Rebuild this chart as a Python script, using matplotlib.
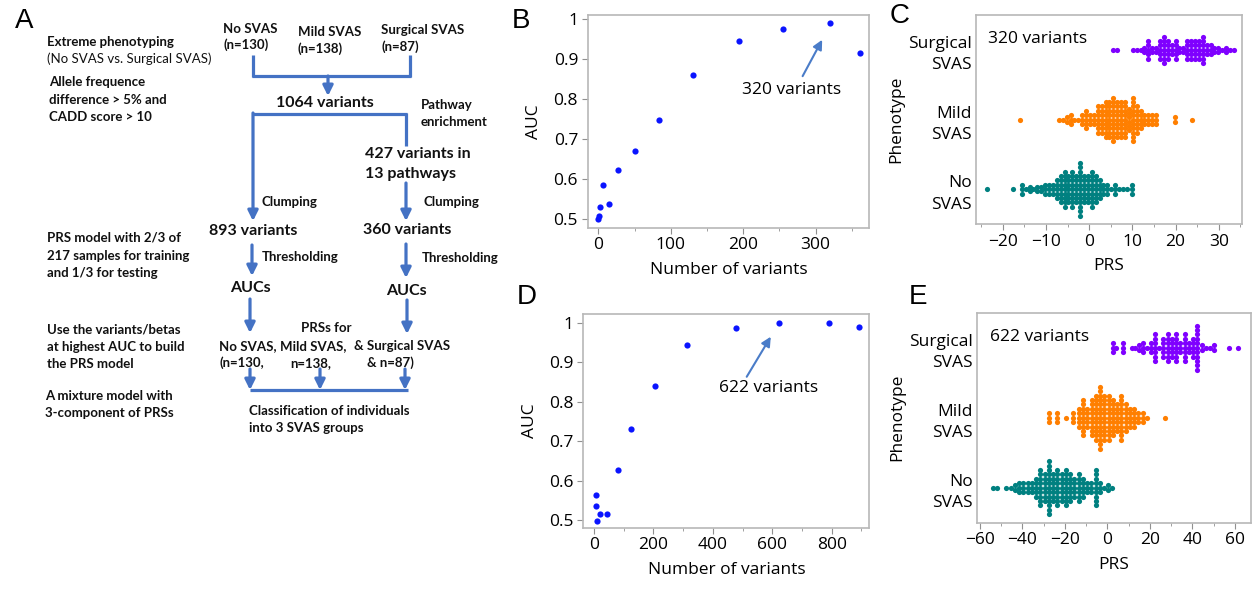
import numpy as np
import matplotlib.pyplot as plt
from matplotlib.ticker import MultipleLocator, FuncFormatter

# panel B: AUC vs number of variants (pathway variants)
b_variants = [0, 0.5, 2, 6, 15, 27, 50, 84, 131, 194, 255, 320, 361]
b_auc = [0.500, 0.506, 0.529, 0.585, 0.537, 0.623, 0.671, 0.747, 0.859, 0.944, 0.975, 0.991, 0.914]

# panel D: AUC vs number of variants (all clumped variants)
d_variants = [5, 8, 11, 21, 45, 82, 123, 205, 313, 477, 622, 790, 893]
d_auc = [0.563, 0.536, 0.498, 0.515, 0.515, 0.628, 0.730, 0.839, 0.944, 0.987, 1.0, 1.0, 0.989]

phenotypes = ["No\nSVAS", "Mild\nSVAS", "Surgical\nSVAS"]
colors = ["#008080", "#FF7F00", "#7F00FF"]

# panel C: binned PRS values (320 variants), count of samples per bin
c_no_prs = [-23.6, -17.7, -15.6, -14.7, -13.8, -12.9, -12.0, -11.1, -10.2, -9.3,
            -8.4, -7.5, -6.6, -5.7, -4.8, -3.9, -3.0, -2.1, -1.2, -0.3,
            0.6, 1.5, 2.4, 3.3, 4.2, 5.1, 6.0, 6.9, 7.8, 8.7, 9.9]
c_no_n = [1, 1, 3, 1, 2, 1, 2, 2, 3, 3,
          3, 5, 7, 9, 7, 9, 7, 13, 7, 7,
          9, 7, 5, 3, 3, 1, 3, 1, 1, 1, 3]
c_mild_prs = [-16.0, -7.0, -6.1, -5.2, -4.3, -3.4, -2.5, -1.6, -0.7, 0.2, 1.1, 2.0, 2.9, 3.8, 4.7,
              5.6, 6.5, 7.4, 8.3, 9.2, 10.1, 11.0, 11.9, 12.8, 13.7, 14.6, 15.5, 19.8, 23.8]
c_mild_n = [1, 1, 1, 2, 3, 1, 1, 3, 5, 3, 3, 7, 7, 9, 9,
            11, 9, 9, 9, 6, 11, 7, 5, 3, 3, 3, 3, 2, 1]
c_surg_prs = [5.6, 6.5, 10.1, 11.0, 11.9, 12.8, 13.7, 14.6, 15.5, 16.4, 17.3, 18.2, 19.1, 20.0, 20.9,
              21.8, 22.7, 23.6, 24.5, 25.4, 26.3, 27.2, 28.1, 29.0, 29.9, 30.8, 31.7, 32.6, 33.5]
c_surg_n = [1, 1, 1, 1, 1, 2, 5, 2, 2, 5, 7, 5, 3, 5, 2,
            2, 5, 5, 5, 5, 7, 3, 3, 2, 2, 1, 2, 1, 1]

# panel E: binned PRS values (622 variants)
e_no_prs = [-54.0, -52.0, -47.5, -45.5, -43.5, -41.5, -39.5, -37.5, -35.5, -33.5,
            -31.5, -29.5, -27.5, -25.5, -23.5, -21.5, -19.5, -17.5, -15.5, -13.5,
            -11.5, -9.5, -7.5, -5.5, -3.5, -1.5, 0.5, 2.3]
e_no_n = [1, 1, 1, 1, 2, 3, 3, 3, 3, 5,
          9, 7, 13, 7, 9, 7, 9, 7, 5, 7,
          5, 3, 3, 9, 3, 1, 2, 1]
e_mild_prs = [-27.3, -23.5, -19.4, -16.0, -13.4, -11.4, -9.4, -7.4, -5.4, -3.4, -1.4,
              0.6, 2.6, 4.6, 6.6, 8.6, 10.6, 12.6, 14.6, 16.6, 18.6, 27.2]
e_mild_n = [3, 3, 1, 3, 5, 9, 5, 9, 11, 15, 11,
            11, 9, 7, 11, 7, 5, 5, 3, 3, 1, 1]
e_surg_prs = [2.5, 4.3, 7.2, 11.5, 13.2, 15.0, 16.8, 18.6, 20.4, 22.4, 24.4, 26.4, 28.4,
              30.4, 32.4, 34.4, 36.4, 38.4, 40.4, 42.4, 44.4, 46.4, 48.4, 50.4, 57.4, 61.6]
e_surg_n = [3, 1, 3, 1, 1, 2, 3, 1, 3, 7, 1, 5, 7,
            5, 7, 3, 7, 3, 5, 11, 2, 1, 1, 2, 1, 1]

plt.rcParams['font.family'] = ['Open Sans', 'DejaVu Sans']
plt.rcParams['font.size'] = 12

fig = plt.figure(figsize=(12.54, 5.9), dpi=100)

# ---- panel A: flowchart drawn in pixel coordinates
axA = fig.add_axes([0, 0, 1, 1], zorder=0)
axA.set_xlim(0, 1254)
axA.set_ylim(590, 0)
axA.axis("off")
blue = "#4472C4"
fa = ['Lato', 'DejaVu Sans']

def txt(x, y, s, size=9.5, weight="bold", ha="left"):
    axA.text(x, y, s, fontsize=size, fontweight=weight, ha=ha, va="center", family=fa, color="#111111")

def seg(x0, y0, x1, y1):
    axA.plot([x0, x1], [y0, y1], color=blue, lw=2.3, solid_capstyle="butt")

def arrow(x, y0, y1):
    axA.annotate("", xy=(x, y1), xytext=(x, y0),
                 arrowprops=dict(arrowstyle="-|>", color=blue, lw=2.3, mutation_scale=15,
                                 shrinkA=0, shrinkB=0))

txt(47, 42, "Extreme phenotyping")
txt(47, 59, "(No SVAS vs. Surgical SVAS)", weight="normal")
txt(49, 82, "Allele frequence")
txt(49, 100, "difference > 5% and")
txt(49, 117, "CADD score > 10")
txt(223, 29, "No SVAS")
txt(223, 45, "(n=130)")
txt(298, 32, "Mild SVAS")
txt(298, 49, "(n=138)")
txt(381, 30, "Surgical SVAS")
txt(381, 47, "(n=87)")
txt(325, 103, "1064 variants", size=11.5, ha="center")
txt(421, 105, "Pathway")
txt(421, 122, "enrichment")
txt(365, 154, "427 variants in", size=11.5)
txt(365, 174, "13 pathways", size=11.5)
txt(262, 202, "Clumping")
txt(423, 202, "Clumping")
txt(209, 231, "893 variants", size=11.5)
txt(363, 230, "360 variants", size=11.5)
txt(262, 257, "Thresholding")
txt(422, 258, "Thresholding")
txt(250, 288, "AUCs", size=11.5, ha="center")
txt(406, 291, "AUCs", size=11.5, ha="center")
txt(47, 238, "PRS model with 2/3 of")
txt(47, 256, "217 samples for training")
txt(47, 273, "and 1/3 for testing")
txt(47, 330, "Use the variants/betas")
txt(47, 347, "at highest AUC to build")
txt(47, 364, "the PRS model")
txt(301, 328, "PRSs for")
txt(219, 346, "No SVAS,")
txt(280, 346, "Mild SVAS,")
txt(354, 346, "& Surgical SVAS")
txt(219, 363, "(n=130,")
txt(290, 363, "n=138,")
txt(367, 363, "& n=87)")
txt(45, 396, "A mixture model with")
txt(45, 413, "3-component of PRSs")
txt(249, 411, "Classification of individuals")
txt(249, 428, "into 3 SVAS groups")

seg(253, 55, 253, 77)
seg(252, 76, 411, 76)
seg(410, 55, 410, 77)
arrow(328, 76, 96)
seg(252, 114, 407, 114)
arrow(253, 113, 221)
seg(406, 113, 406, 146)
arrow(406, 183, 221)
arrow(252, 245, 276)
arrow(406, 244, 278)
arrow(250, 299, 333)
arrow(407, 300, 334)
for xa in [250, 320, 405]:
    arrow(xa, 369, 390)
seg(250, 390, 408, 390)

# panel letters
for lab, (lx, ly) in zip("ABCDE", [(24, 21), (521, 21), (900, 16), (527, 297), (918, 297)]):
    axA.text(lx, ly, lab, fontsize=20, ha="center", va="center", family=['Liberation Sans'])

def style(ax):
    for sp in ax.spines.values():
        sp.set_color("#b8b8b8")
        sp.set_linewidth(1.2)
    ax.tick_params(which="major", length=4, color="#909090", labelsize=12.5, pad=3)
    ax.tick_params(which="minor", length=2.5, color="#909090")

def auc_panel(rect, xs, ys, xlim, ylim, xmaj, label, txy, tail, head):
    ax = fig.add_axes(rect, zorder=2)
    ax.scatter(xs, ys, s=20, color="#0A14FF", linewidths=0, zorder=3)
    ax.set_xlim(*xlim)
    ax.set_ylim(*ylim)
    ax.xaxis.set_major_locator(MultipleLocator(xmaj))
    ax.xaxis.set_minor_locator(MultipleLocator(xmaj / 2))
    ax.yaxis.set_major_locator(MultipleLocator(0.1))
    ax.yaxis.set_major_formatter(FuncFormatter(lambda v, p: "%g" % round(v, 2)))
    ax.set_xlabel("Number of variants", fontsize=12.5, labelpad=6)
    ax.set_ylabel("AUC", fontsize=12.5, labelpad=8)
    ax.annotate("", xy=head, xytext=tail,
                arrowprops=dict(arrowstyle="-|>", color="#4A7CC8", lw=1.5, mutation_scale=14,
                                shrinkA=0, shrinkB=0))
    ax.text(txy[0], txy[1], label, ha="center", va="center", fontsize=12.5)
    style(ax)
    return ax

auc_panel([0.4687, 0.6141, 0.2245, 0.3605], b_variants, b_auc, (-14.6, 374), (0.478, 1.01), 100,
          "320 variants", (267, 0.8225), (282, 0.857), (309, 0.948))
auc_panel([0.4652, 0.1056, 0.2280, 0.3622], d_variants, d_auc, (-36, 926.6), (0.4806, 1.022), 200,
          "622 variants", (586, 0.834), (514, 0.863), (595, 0.9645))

def swarm_panel(rect, groups, xlim, xmaj, label, dy):
    ax = fig.add_axes(rect, zorder=2)
    for row, (prs, counts) in enumerate(groups):
        xs, ys = [], []
        for x, n in zip(prs, counts):
            for k in range(n):
                xs.append(x)
                ys.append(row + (k - (n - 1) / 2) * dy)
        ax.scatter(xs, ys, s=14, color=colors[row], linewidths=0, zorder=3)
    ax.set_xlim(*xlim)
    ax.set_ylim(-0.5, 2.5)
    ax.xaxis.set_major_locator(MultipleLocator(xmaj))
    ax.xaxis.set_minor_locator(MultipleLocator(xmaj / 2))
    ax.set_yticks([0, 1, 2])
    ax.set_yticklabels(phenotypes, linespacing=1.45, ha="right")
    ax.set_xlabel("PRS", fontsize=12.5, labelpad=6)
    ax.set_ylabel("Phenotype", fontsize=12.5, labelpad=3)
    ax.text(0.045, 0.885, label, transform=ax.transAxes, ha="left", va="center", fontsize=12.5)
    style(ax)
    ax.tick_params(axis="y", length=0, pad=3)
    return ax

swarm_panel([0.7783, 0.6203, 0.2119, 0.3543],
            [(c_no_prs, c_no_n), (c_mild_prs, c_mild_n), (c_surg_prs, c_surg_n)],
            (-26.2, 35.3), 10, "320 variants", 0.063)
swarm_panel([0.7793, 0.1141, 0.2181, 0.3559],
            [(e_no_prs, e_no_n), (e_mild_prs, e_mild_n), (e_surg_prs, e_surg_n)],
            (-61.2, 67.5), 20, "622 variants", 0.063)

fig.savefig("out.png", dpi=100)
